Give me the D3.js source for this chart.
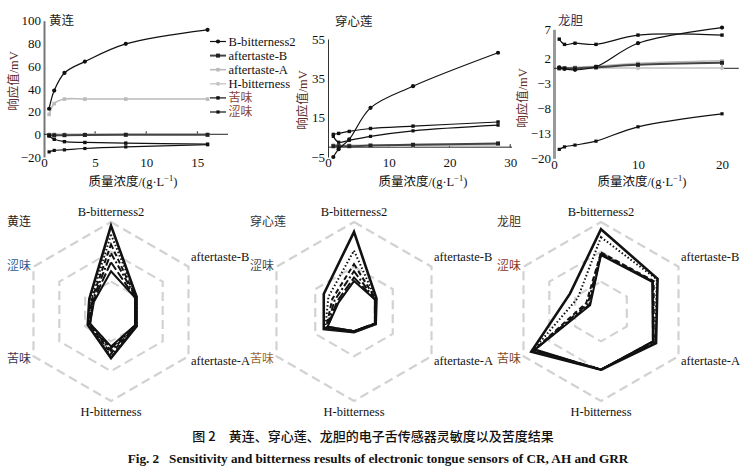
<!DOCTYPE html>
<html><head><meta charset="utf-8">
<script src="https://cdn.jsdelivr.net/npm/d3@7"></script>
<style>body{margin:0;background:#fff}svg{display:block}</style>
</head><body>
<svg id="c" width="751" height="472"></svg>
<script>
// ---------------- DATA ----------------
const sensors = ["B-bitterness2","aftertaste-B","aftertaste-A","H-bitterness","苦味","涩味"];
const herbs = ["黄连","穿心莲","龙胆"];

// 黄连 (CR) response vs concentration
const concCR = [0.5,1,2,4,8,16];
const crBitter2 = [22.5,38.5,54,64,79.6,92];
const crAfterB  = [-0.8,-0.8,-0.8,-0.6,-0.5,-0.5];
const crAfterA  = [17.5,27,31,31,31,31];
const crHBitter = [0,0,0,0,0,0];
const crKu      = [-1.5,-4.4,-6.5,-7.2,-7.8,-8.7];
const crSe      = [-15.5,-14.2,-13.7,-12.5,-11.1,-9.2];
const crYTicks = [-20,0,20,40,60,80,100];
const crXTicks = [0,5,10,15];

// 穿心莲 (AH)
const concAH = [0.875,1.75,3.5,7,14,28];
const ahBitter2 = [-5,-1,4,20,31,48];
const ahAfterB  = [0.5,0.5,0.5,0.8,1.2,1.9];
const ahAfterA  = [1,1,1,1,1.3,1.5];
const ahHBitter = [0.3,0.3,0.5,0.5,0.8,1];
const ahKu      = [6.5,7,8,9.5,10.7,12.8];
const ahSe      = [5.5,2.5,3.5,5.5,8.3,11.2];
const ahYTicks = [-5,15,35,55];
const ahXTicks = [0,10,20,30];

// 龙胆 (GRR)
const concGR = [0.625,1.25,2.5,5,10,20];
const grBitter2 = [0.2,-0.1,-0.3,0.3,4.6,7.3];
const grAfterB  = [0,0,0,0.2,0.7,1.1];
const grAfterA  = [0.1,0.1,0.2,0.4,1,1.5];
const grHBitter = [-0.1,-0.1,-0.1,0,0,0];
const grKu      = [5.3,4.4,4.6,4.4,6.0,6.0];
const grSe      = [-17.5,-16.8,-16.3,-15.2,-11.7,-9.1];
const grYTicks = [-20,-13,-8,-3,2,7];
const grXTicks = [0,10,20];

// Radar (bitterness) – relative values per sensor axis, 6 concentrations (high -> low)
const radarAxes = ["B-bitterness2","aftertaste-B","aftertaste-A","H-bitterness","苦味","涩味"];
const radarCR = [
  [0.96,0.33,0.33,0.52,0.30,0.28],
  [0.86,0.33,0.33,0.50,0.29,0.26],
  [0.75,0.32,0.32,0.47,0.28,0.25],
  [0.65,0.32,0.32,0.44,0.28,0.24],
  [0.55,0.31,0.31,0.41,0.27,0.23],
  [0.45,0.31,0.31,0.39,0.27,0.22]
];
const radarAH = [
  [0.89,0.29,0.28,0.23,0.39,0.39],
  [0.68,0.28,0.28,0.23,0.37,0.33],
  [0.53,0.28,0.27,0.22,0.36,0.28],
  [0.45,0.27,0.27,0.22,0.35,0.25],
  [0.38,0.27,0.27,0.22,0.34,0.22],
  [0.34,0.27,0.27,0.22,0.34,0.20]
];
const radarGR = [
  [0.92,0.73,0.71,0.65,0.90,0.40],
  [0.83,0.72,0.70,0.65,0.89,0.30],
  [0.66,0.68,0.68,0.65,0.87,0.19],
  [0.65,0.67,0.68,0.65,0.86,0.17],
  [0.64,0.67,0.67,0.65,0.86,0.15],
  [0.63,0.66,0.67,0.65,0.85,0.14]
];

// ---------------- DRAW ----------------
const svg = d3.select("#c");
const serif = "'Liberation Serif','Times New Roman',serif";
const cjk = "'Noto Sans CJK SC','Noto Sans',sans-serif";
const mixed = "'Liberation Serif','Noto Sans CJK SC',serif";

const seriesStyle = [
  {stroke:"#111", w:1.2, shape:"circle", fill:"#111", size:2.1},
  {stroke:"#444", w:2.0, shape:"square", fill:"#222", size:4},
  {stroke:"#bbb", w:1.6, shape:"square", fill:"#bbb", size:3.6},
  {stroke:"#cfcfcf", w:1.6, shape:"circle", fill:"#c4c4c4", size:2},
  {stroke:"#111", w:1.2, shape:"square", fill:"#111", size:3.4},
  {stroke:"#111", w:1.2, shape:"square", fill:"#111", size:3.2}
];

function marker(g, x, y, st){
  if(st.shape==="circle") g.append("circle").attr("cx",x).attr("cy",y).attr("r",st.size).attr("fill",st.fill);
  else g.append("rect").attr("x",x-st.size/2).attr("y",y-st.size/2).attr("width",st.size).attr("height",st.size).attr("fill",st.fill);
}

function lineChart(cfg){
  const g = svg.append("g");
  const x = cfg.x, y = cfg.y;
  const ya = g.append("g").attr("transform",`translate(${x.range()[0]},0)`)
    .call(d3.axisLeft(y).tickValues(cfg.yTicks).tickSize(0).tickPadding(3).tickFormat(d=>d<0?"\u2212"+(-d):d));
  ya.select(".domain").attr("stroke",cfg.axisColor).attr("stroke-width",cfg.axisW);
  ya.selectAll("text").attr("font-family",serif).attr("font-size",13).attr("fill","#111");
  const xa = g.append("g").attr("transform",`translate(0,${y.range()[0]})`)
    .call(d3.axisBottom(x).tickValues(cfg.xTicks).tickSize(0).tickPadding(1));
  xa.select(".domain").remove();
  xa.selectAll("text").attr("font-family",serif).attr("font-size",13).attr("fill","#111");
  g.append("line").attr("x1",x.range()[0]).attr("x2",x.range()[1]).attr("y1",y(0)).attr("y2",y(0))
    .attr("stroke","#222").attr("stroke-width",1);
  g.selectAll(".zt").data(cfg.xTicks.filter(d=>d>0)).enter().append("line")
    .attr("x1",d=>x(d)).attr("x2",d=>x(d)).attr("y1",y(0)).attr("y2",y(0)-3).attr("stroke","#222");
  const line = d3.line().x(d=>x(d[0])).y(d=>y(d[1])).curve(d3.curveCatmullRom.alpha(0.5));
  const order = [3,2,1,5,4,0];
  order.forEach(i=>{
    const st = seriesStyle[i];
    const pts = cfg.conc.map((c,k)=>[c,cfg.series[i][k]]);
    g.append("path").attr("d",line(pts)).attr("fill","none").attr("stroke",st.stroke).attr("stroke-width",st.w);
    const mg = g.append("g");
    pts.forEach(p=>marker(mg,x(p[0]),y(p[1]),st));
  });
  g.append("text").attr("x",cfg.titleX).attr("y",cfg.titleY).text(cfg.title)
    .attr("font-family",cjk).attr("font-size",12.5).attr("fill",cfg.titleColor);
  g.append("text").attr("transform",`translate(${cfg.ylabX},${cfg.ylabY}) rotate(-90)`)
    .attr("text-anchor","middle").attr("font-family",mixed).attr("font-size",12.5).attr("fill","#5e2c2c")
    .text("响应值/mV");
  const xl = g.append("text").attr("x",cfg.xlabX).attr("y",186).attr("text-anchor","middle")
    .attr("font-family",mixed).attr("font-size",12.5).attr("fill","#111");
  xl.append("tspan").text("质量浓度/(g·L");
  xl.append("tspan").attr("dy",-5).attr("font-size",8.5).text("\u22121");
  xl.append("tspan").attr("dy",5).text(")");
}

lineChart({
  x: d3.scaleLinear([0,18],[44,228]),
  y: d3.scaleLinear([-20,100],[157,20.7]),
  conc: concCR, series:[crBitter2,crAfterB,crAfterA,crHBitter,crKu,crSe],
  yTicks: crYTicks, xTicks: crXTicks, axisColor:"#777", axisW:2,
  title:"黄连", titleX:49, titleY:25, titleColor:"#222",
  ylabX:18, ylabY:81, xlabX:133
});
lineChart({
  x: d3.scaleLinear([0,30.3],[328,512]),
  y: d3.scaleLinear([-5,55],[157,39]),
  conc: concAH, series:[ahBitter2,ahAfterB,ahAfterA,ahHBitter,ahKu,ahSe],
  yTicks: ahYTicks, xTicks: ahXTicks, axisColor:"#333", axisW:1,
  title:"穿心莲", titleX:335, titleY:26, titleColor:"#222",
  ylabX:307, ylabY:100, xlabX:423
});
lineChart({
  x: d3.scaleLinear([0,22],[554,738.8]),
  y: d3.scaleLinear([-20,-13,2,7],[158.3,133.3,58.3,29.3]),
  conc: concGR, series:[grBitter2,grAfterB,grAfterA,grHBitter,grKu,grSe],
  yTicks: grYTicks, xTicks: grXTicks, axisColor:"#999", axisW:3,
  title:"龙胆", titleX:558, titleY:25, titleColor:"#3a3050",
  ylabX:527, ylabY:98, xlabX:642
});

// legend
const lg = svg.append("g");
sensors.forEach((s,i)=>{
  const yy = 41.5 + i*14.1, st = seriesStyle[i];
  lg.append("line").attr("x1",210).attr("x2",226).attr("y1",yy).attr("y2",yy).attr("stroke",st.stroke).attr("stroke-width",st.w);
  marker(lg,218,yy,st);
  lg.append("text").attr("x",228.5).attr("y",yy+4.3).text(s)
    .attr("font-family",i>=4?mixed:serif).attr("font-size",i>=4?12:12.6)
    .attr("fill",i>=4?"#8a4535":"#111");
});

// radar charts
const dashes = [null,"1.5,2.2","5,3","7,2.5,2,2.5","9,3",null];
const widths = [2.6,2,2,2,2,2];
const radars = [
  {cx:111, data:radarCR, levels:[1/3,2/3,1], name:herbs[0], nameColor:"#222", seColor:"#2f6190", kuColor:"#333a5a"},
  {cx:354, data:radarAH, levels:[0.5,1], name:herbs[1], nameColor:"#333", seColor:"#444a5a", kuColor:"#a0661e"},
  {cx:601, data:radarGR, levels:[1/3,2/3,1], name:herbs[2], nameColor:"#4a3020", seColor:"#8a3a2a", kuColor:"#7a4a2a"}
];
const cy = 311.5, R = 89.5;
const rScale = d3.scaleLinear([0,1],[0,R]);
radars.forEach(rd=>{
  const g = svg.append("g");
  const pt = (k,v)=>{const a=k*Math.PI/3; return [rd.cx+rScale(v)*Math.sin(a), cy-rScale(v)*Math.cos(a)];};
  rd.levels.forEach(l=>{
    g.append("path").attr("d", d3.line()(d3.range(6).map(k=>pt(k,l)))+"Z")
      .attr("fill","none").attr("stroke","#d2d2d2").attr("stroke-width",2.2).attr("stroke-dasharray","9,5");
  });
  rd.data.slice().reverse().forEach((vals,ri)=>{
    const idx = rd.data.length-1-ri;
    g.append("path").attr("d", d3.line()(vals.map((v,k)=>pt(k,v)))+"Z")
      .attr("fill","none").attr("stroke","#111").attr("stroke-width",widths[idx])
      .attr("stroke-linejoin","miter")
      .attr("stroke-dasharray",dashes[idx]);
  });
  const t = (x,y,txt,anchor,font,size,color)=>g.append("text").attr("x",x).attr("y",y).text(txt)
    .attr("text-anchor",anchor).attr("font-family",font).attr("font-size",size).attr("fill",color);
  t(rd.cx,216,radarAxes[0],"middle",serif,12.5,"#111");
  t(rd.cx+80,cy-51,radarAxes[1],"start",serif,12.5,"#111");
  t(rd.cx+80,cy+53,radarAxes[2],"start",serif,12.5,"#111");
  t(rd.cx,415.5,radarAxes[3],"middle",serif,12.5,"#111");
  t(rd.cx-104,cy+51,radarAxes[4],"start",cjk,12,rd.kuColor);
  t(rd.cx-104,cy-42,radarAxes[5],"start",cjk,12,rd.seColor);
  t(rd.cx-104,cy-85.5,rd.name,"start",cjk,12,rd.nameColor);
});

// caption
svg.append("text").attr("x",373).attr("y",441).attr("text-anchor","middle")
  .attr("font-family",cjk).attr("font-size",13).attr("font-weight",500).attr("fill","#111")
  .text("图 2　黄连、穿心莲、龙胆的电子舌传感器灵敏度以及苦度结果");
svg.append("text").attr("x",378).attr("y",463).attr("text-anchor","middle")
  .attr("font-family",serif).attr("font-size",13.2).attr("font-weight","bold").attr("fill","#111")
  .attr("xml:space","preserve")
  .text("Fig. 2   Sensitivity and bitterness results of electronic tongue sensors of CR, AH and GRR");
</script>
</body></html>
